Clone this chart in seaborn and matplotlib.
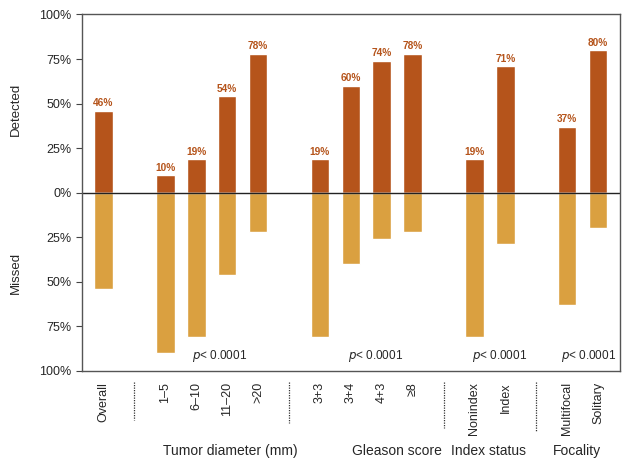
import numpy as np
import pandas as pd
import matplotlib
matplotlib.use("Agg")
import matplotlib.pyplot as plt
import matplotlib.transforms as mtransforms
import seaborn as sns

# Данные
categories = ["Overall", "1\u20135", "6\u201310", "11\u201320", ">20",
              "3+3", "3+4", "4+3", "\u22658",
              "Nonindex", "Index", "Multifocal", "Solitary"]
detected = [46, 10, 19, 54, 78, 19, 60, 74, 78, 19, 71, 37, 80]
groups = ["Tumor diameter (mm)", "Gleason score", "Index status", "Focality"]
p_labels = ["< 0.0001", "< 0.0001", "< 0.0001", "< 0.0001"]
yticks = [100, 75, 50, 25, 0, -25, -50, -75, -100]
ytick_labels = ["100%", "75%", "50%", "25%", "0%", "25%", "50%", "75%", "100%"]

# позиции слотов (пропуск между группами)
positions = [0, 2, 3, 4, 5, 7, 8, 9, 10, 12, 13, 15, 16]
separators = [1, 6, 11, 14]
sep_bottom = [0.099, 0.092, 0.082, 0.073]
group_x = [4.1, 9.5, 12.45, 15.3]
p_x = [3.75, 8.8, 12.8, 15.7]

df = pd.DataFrame({
    "pos": positions,
    "cat": categories,
    "detected": detected,
    "missed": [-(100 - d) for d in detected],
})

c_det = "#B5541B"
c_mis = "#DAA040"

sns.set_style("ticks")
plt.rcParams["font.family"] = ["Liberation Sans", "DejaVu Sans"]

fig = plt.figure(figsize=(6.35, 4.66), dpi=100)
ax = fig.add_axes([0.129, 0.204, 0.847, 0.765])

sns.barplot(data=df, x="pos", y="detected", native_scale=True, width=0.6,
            color=c_det, saturation=1, ax=ax)
sns.barplot(data=df, x="pos", y="missed", native_scale=True, width=0.6,
            color=c_mis, saturation=1, ax=ax)

for x, d in zip(df["pos"], df["detected"]):
    ax.text(x, d + 1.3, f"{d}%", ha="center", va="bottom", fontsize=7.3,
            fontweight="bold", color=c_det)

ax.axhline(0, color="#222222", lw=1)
ax.set_xlim(-0.7, 16.7)
ax.set_ylim(-100, 100)
ax.set_yticks(yticks)
ax.set_yticklabels(ytick_labels, fontsize=9)
ax.tick_params(axis="y", length=4, color="#444444")
ax.set_xticks(positions)
ax.set_xticklabels(categories, rotation=90, fontsize=9, va="top")
ax.tick_params(axis="x", length=0, pad=8)
ax.set_xlabel("")
ax.set_ylabel("")
for s in ax.spines.values():
    s.set_color("#555555")
    s.set_linewidth(1)

# p-значения
for x, p in zip(p_x, p_labels):
    ax.text(x, -91.5, "$\\it{p}$" + p, ha="center", va="center", fontsize=8.5)

# подписи осей слева
trans = mtransforms.blended_transform_factory(fig.transFigure, ax.transData)
ax.text(0.025, 47, "Detected", rotation=90, ha="center", va="center",
        fontsize=9.5, transform=trans)
ax.text(0.025, -45, "Missed", rotation=90, ha="center", va="center",
        fontsize=9.5, transform=trans)

# пунктирные разделители под осью
transx = mtransforms.blended_transform_factory(ax.transData, fig.transFigure)
for x, b in zip(separators, sep_bottom):
    ax.plot([x, x], [0.18, b], ls=(0, (1, 1)), lw=0.9, color="#333333",
            transform=transx, clip_on=False)
for gx, g in zip(group_x, groups):
    ax.text(gx, 0.032, g, ha="center", va="center", fontsize=10, transform=transx)

fig.savefig("out.png", dpi=100)
